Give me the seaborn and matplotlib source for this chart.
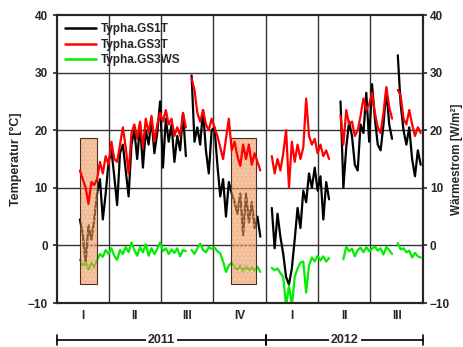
import numpy as np
import pandas as pd
import matplotlib
matplotlib.use("Agg")
import matplotlib.pyplot as plt
import matplotlib.colors as mcolors
import seaborn as sns
from matplotlib.patches import Rectangle

# ─── Data ─────────────────────────────────────────────────────────────────────
# one value every 5 days, starting 2011-02-10 (nan = logger gap)
start_date = "2011-02-10"
nan = np.nan

gs1t = [
    4.5, 2.0, -3.0, 3.5, 1.0, 4.5, 9.0, 11.5, 4.5, 9.0,
    14.5, 16.5, 12.0, 7.0, 16.0, 17.5, 13.0, 8.5, 17.5, 20.0,
    15.0, 21.0, 13.5, 20.0, 17.5, 22.0, 16.0, 19.5, 25.0, 13.5,
    22.0, 18.0, 21.0, 14.5, 19.0, 16.5, 23.0, 15.5, nan, 29.5,
    18.0, 20.5, 17.5, 23.5, 16.5, 12.5, 20.0, 20.5, 14.0, 8.5,
    11.5, 5.0, 11.0, 9.0, 7.5, 5.5, 9.0, 1.8, 9.0, 4.0,
    7.5, 3.0, 5.0, 1.5, nan, nan, nan, 6.5, -0.5, 5.5,
    1.5, -1.5, -5.5, -6.8, -4.0, 1.0, 6.5, 3.0, 9.5, 7.5,
    12.5, 10.0, 13.5, 9.5, 12.0, 4.5, 11.0, 8.0, nan, nan,
    nan, 25.0, 10.0, 17.0, 21.5, 19.0, 14.0, 13.0, 21.0, 19.5,
    26.5, 18.0, 28.0, 22.0, 17.5, 16.5, 21.0, 27.0, 21.0, 18.5,
    nan, 33.0, 24.5, 20.0, 17.5, 20.5, 15.0, 12.0, 16.5, 14.0,
]

gs3t = [
    13.0, 11.5, 10.0, 7.2, 11.0, 10.5, 11.5, 14.5, 12.5, 15.5,
    14.0, 18.0, 15.0, 14.5, 17.5, 20.5, 17.0, 12.5, 19.5, 21.0,
    18.5, 21.5, 17.0, 22.0, 19.5, 22.5, 18.0, 21.0, 23.0, 21.5,
    23.5, 21.0, 22.0, 19.0, 20.5, 19.0, 23.0, 20.5, nan, 29.0,
    27.0, 23.0, 21.5, 23.5, 21.0, 20.0, 22.0, 20.5, 19.0, 17.0,
    15.0, 18.5, 22.0, 16.5, 18.0, 15.5, 13.8, 17.5, 15.0, 17.5,
    14.0, 16.0, 14.5, 13.0, nan, nan, nan, 15.5, 12.5, 15.0,
    13.0, 16.0, 20.0, 10.0, 18.0, 14.5, 17.5, 15.0, 17.0, 25.5,
    19.0, 17.5, 18.5, 16.0, 17.5, 15.5, 16.5, 15.0, nan, nan,
    nan, 22.5, 17.5, 23.5, 21.0, 21.5, 19.0, 20.0, 22.5, 25.5,
    23.5, 24.5, 26.5, 23.0, 20.5, 19.5, 23.0, 27.5, 24.0, 22.0,
    nan, 27.0, 26.0, 22.0, 21.0, 23.5, 21.0, 19.0, 20.5, 19.5,
]

gs3ws = [
    -2.5, -3.5, -3.0, -4.2, -3.0, -3.8, -2.5, -1.5, -2.0, -0.8,
    -1.5, -0.5, -1.8, -2.5, -0.8, -1.5, -0.3, -1.2, 0.5, -0.8,
    -1.8, -0.3, -1.2, 0.2, -1.8, -0.5, -1.5, -0.6, 0.5, -1.0,
    -0.5, -1.5, -0.7, -1.3, -0.5, -1.9, -0.8, -1.0, nan, -0.8,
    -1.5, -0.5, 0.3, -0.8, -1.2, -0.3, -0.6, -0.4, -1.0, -1.4,
    -2.8, -4.6, -3.5, -3.0, -3.8, -4.2, -3.5, -4.5, -3.6, -4.3,
    -3.8, -4.4, -3.7, -4.6, nan, nan, nan, -3.9, -4.3, -4.0,
    -4.8, -5.5, -10.5, -7.0, -10.5, -5.5, -4.0, -3.0, -2.8, -8.2,
    -3.5, -2.1, -2.8, -1.8, -2.6, -1.9, -2.8, -2.2, nan, nan,
    nan, nan, -2.4, -0.2, -1.0, -0.6, -1.9, -0.8, -0.4, -1.2,
    -0.3, -1.0, -0.6, -0.2, -0.9, -0.5, -1.6, -0.3, -0.8, -1.5,
    nan, 0.4, -0.7, -0.5, -1.2, -0.9, -2.1, -1.3, -1.9, -2.1,
]

series_names = ["Typha.GS1T", "Typha.GS3T", "Typha.GS3WS"]
series_colors = ["#000000", "#ff0000", "#00ee00"]

# highlighted periods (shaded boxes)
box_starts = ["2011-02-11", "2011-11-01"]
box_ends = ["2011-03-11", "2011-12-15"]
box_ymin = -6.7
box_ymax = 18.7

quarter_edges = ["2011-01-01", "2011-04-01", "2011-07-01", "2011-10-01",
                 "2012-01-01", "2012-04-01", "2012-07-01", "2012-10-01"]
quarter_labels = ["I", "II", "III", "IV", "I", "II", "III"]
years = ["2011", "2012"]
year_edges = ["2011-01-01", "2012-01-01", "2012-10-01"]

# ─── Long table with segment ids so gaps stay open ────────────────────────────
dates = pd.date_range(start_date, periods=len(gs1t), freq="5D")
frames = []
for name, vals in zip(series_names, [gs1t, gs3t, gs3ws]):
    d = pd.DataFrame({"date": dates, "value": vals, "series": name})
    d["seg"] = d["value"].isna().cumsum()
    d["seg"] = name + "_" + d["seg"].astype(str)
    frames.append(d.dropna())
df = pd.concat(frames, ignore_index=True)

# ─── Plot ─────────────────────────────────────────────────────────────────────
sns.set_style("white")
plt.rcParams["font.family"] = ["Liberation Sans", "DejaVu Sans"]
plt.rcParams["font.weight"] = "bold"
plt.rcParams["hatch.linewidth"] = 0.6

fig = plt.figure(figsize=(4.63, 3.47), dpi=100)
ax = fig.add_axes([57 / 463, 44 / 347, 366 / 463, 288 / 347])

qe = pd.to_datetime(quarter_edges)
for q in qe[1:-1]:
    ax.axvline(q, color="#333333", lw=1.0, zorder=0)
for yv in [0, 10, 20, 30]:
    ax.axhline(yv, color="#333333", lw=1.0, zorder=0)

sns.lineplot(data=df, x="date", y="value", hue="series", units="seg",
             estimator=None, palette=dict(zip(series_names, series_colors)),
             hue_order=series_names, lw=1.6, ax=ax, zorder=2)

# red series sits on top of the shaded boxes
red_rgba = mcolors.to_rgba(series_colors[1])
for ln in ax.lines:
    if mcolors.to_rgba(ln.get_color()) == red_rgba:
        ln.set_zorder(5)

for s, e in zip(pd.to_datetime(box_starts), pd.to_datetime(box_ends)):
    x0 = matplotlib.dates.date2num(s)
    w = matplotlib.dates.date2num(e) - x0
    ax.add_patch(Rectangle((x0, box_ymin), w, box_ymax - box_ymin,
                           facecolor="#ee9050", edgecolor="#fbe3d0", hatch="....",
                           lw=0, alpha=0.6, zorder=3))
    ax.add_patch(Rectangle((x0, box_ymin), w, box_ymax - box_ymin,
                           fill=False, edgecolor="#4a3020", lw=0.8, zorder=4))

ax.set_xlim(qe[0], qe[-1])
ax.set_ylim(-10, 40)
ax.set_yticks([-10, 0, 10, 20, 30, 40])
ax.set_xticks([])
ax.set_xlabel("")
ax.set_ylabel("Temperatur [°C]", fontsize=9, fontweight="bold", labelpad=4)
ax.tick_params(axis="y", labelsize=8.5, length=3, width=1.2, direction="out", left=True)
for sp in ax.spines.values():
    sp.set_linewidth(1.5)
    sp.set_color("black")

ax2 = ax.twinx()
ax2.set_ylim(-10, 40)
ax2.set_yticks([-10, 0, 10, 20, 30, 40])
ax2.tick_params(axis="y", labelsize=8.5, length=3, width=1.2, direction="out", right=True,
                pad=2)
ax2.set_ylabel("Wärmestrom [W/m²]", fontsize=8.5, fontweight="bold", rotation=90, labelpad=1)
for sp in ax2.spines.values():
    sp.set_linewidth(1.5)

leg = ax.legend(loc="upper left", frameon=False, fontsize=8.5, handlelength=2.6,
                borderaxespad=0.3, labelspacing=0.3, handletextpad=0.4)
for t in leg.get_texts():
    t.set_fontweight("bold")
for h in leg.get_lines():
    h.set_linewidth(1.8)

# quarter labels
trans = ax.get_xaxis_transform()
for lab, a, b in zip(quarter_labels, qe[:-1], qe[1:]):
    mid = a + (b - a) / 2
    ax.text(mid, -0.045, lab, transform=trans, ha="center", va="center",
            fontsize=8.5, fontweight="bold")

# year brackets
ye = pd.to_datetime(year_edges)
for lab, a, b in zip(years, ye[:-1], ye[1:]):
    ax.plot([a, b], [-0.128, -0.128], transform=trans, color="black", lw=1.2, clip_on=False)
    for xx in (a, b):
        ax.plot([xx, xx], [-0.145, -0.111], transform=trans, color="black", lw=1.2, clip_on=False)
    mid = a + (b - a) / 2
    ax.text(mid, -0.128, lab, transform=trans, ha="center", va="center", fontsize=9,
            fontweight="bold", bbox=dict(facecolor="white", edgecolor="none", pad=1.5))

fig.savefig("out.png", dpi=100)
